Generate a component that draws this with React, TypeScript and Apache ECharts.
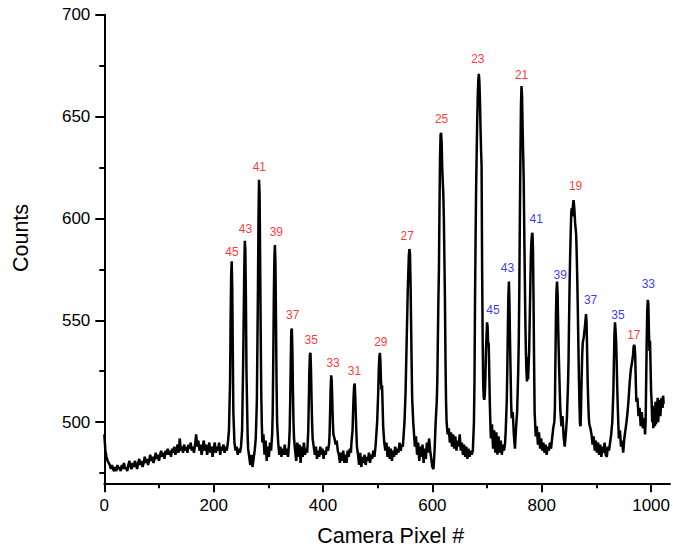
import React, { useEffect, useRef } from "react";
import * as echarts from "echarts";

// Spectrum (camera pixel, counts)
const spectrumBaseline: [number, number][] = [
  [0, 494], [1, 490], [2, 486], [4, 483], [6, 481], [8, 480], [10, 479], [12, 477], [14, 479], [16, 477],
  [18, 476], [20, 478], [22, 476], [24, 479], [26, 477], [28, 478], [30, 476], [32, 479], [34, 477], [36, 480],
  [38, 477], [40, 478], [42, 476], [44, 479], [46, 481], [48, 478], [50, 477], [52, 480], [54, 478], [56, 481],
  [58, 479], [60, 477], [62, 480], [64, 482], [66, 479], [68, 481], [70, 478], [72, 480], [74, 483], [76, 480],
  [78, 482], [80, 479], [82, 481], [84, 484], [86, 481], [88, 483], [90, 480], [92, 482], [94, 485], [96, 482],
  [98, 484], [100, 481], [102, 484], [104, 486], [106, 483], [108, 485], [110, 482], [112, 486], [114, 484], [116, 487],
  [118, 484], [120, 486], [122, 483], [124, 487], [126, 485], [128, 488], [130, 484], [132, 486], [134, 489], [136, 485],
  [138, 492], [140, 486], [142, 488], [144, 485], [146, 489], [148, 486], [150, 488], [152, 485], [154, 489], [156, 487],
  [158, 490], [160, 486], [162, 488], [164, 485], [166, 489], [168, 494], [170, 488], [172, 491], [174, 486], [176, 489],
  [178, 484], [180, 488], [182, 491], [184, 486], [186, 489], [188, 484], [190, 487], [192, 490], [194, 485], [196, 488],
  [198, 483], [200, 487], [202, 490], [204, 485], [206, 488], [208, 486], [210, 490], [212, 484], [214, 488], [216, 486],
  [218, 489], [220, 485], [222, 488], [224, 486],
];

const spectrumPeaks45to39: [number, number][] = [
  [226, 490], [228, 496], [230, 520], [231, 550], [232, 572], [233, 579], [234, 566], [235, 535], [236, 505], [238, 490],
  [240, 486], [242, 488], [244, 484], [246, 487], [248, 485], [250, 488], [252, 496], [254, 530], [256, 575], [257, 589],
  [258, 584], [259, 560], [260, 525], [262, 495], [263, 487], [265, 483], [267, 479], [269, 484], [271, 478], [273, 482],
  [275, 486], [277, 492], [279, 510], [281, 565], [282, 600], [283, 619], [284, 612], [285, 580], [286, 545], [287, 515],
  [288, 500], [289, 490], [291, 494], [293, 484], [295, 491], [297, 481], [299, 488], [301, 483], [303, 490], [305, 486],
  [307, 494], [308, 505], [309, 530], [310, 560], [311, 580], [312, 587], [313, 578], [314, 550], [315, 520], [316, 500],
  [318, 490], [320, 484], [322, 488], [324, 483], [326, 487], [328, 484], [330, 489], [332, 484], [334, 487], [336, 483],
  [338, 490],
];

const spectrumPeaks37to33: [number, number][] = [
  [339, 496], [340, 510], [341, 530], [342, 545], [343, 546], [344, 535], [345, 515], [346, 500], [347, 492], [349, 486],
  [351, 481], [353, 490], [355, 483], [357, 489], [359, 480], [361, 488], [363, 483], [365, 490], [367, 484], [369, 487],
  [371, 485], [372, 490], [373, 496], [374, 510], [375, 525], [376, 533], [377, 534], [378, 526], [379, 512], [380, 500],
  [381, 492], [383, 488], [385, 484], [387, 488], [389, 482], [391, 486], [393, 483], [395, 488], [397, 484], [399, 487],
  [401, 482], [403, 486], [405, 484], [407, 488], [409, 486], [411, 489], [412, 494], [413, 505], [414, 517], [415, 523],
  [416, 520], [417, 510], [418, 500], [419, 494], [421, 492], [423, 489], [425, 491], [427, 486], [429, 484], [431, 480],
  [433, 485], [435, 481], [437, 486], [439, 480], [441, 484], [443, 480], [445, 486], [447, 483], [449, 487], [451, 485],
];

const spectrumPeaks31to29: [number, number][] = [
  [452, 490], [454, 496], [455, 505], [456, 513], [457, 518], [458, 519], [459, 512], [460, 503], [461, 495], [462, 488],
  [464, 484], [466, 479], [468, 485], [470, 478], [472, 483], [474, 480], [476, 484], [478, 479], [480, 483], [482, 481],
  [484, 485], [486, 480], [488, 484], [490, 482], [492, 486], [494, 483], [496, 488], [497, 492], [499, 500], [501, 515],
  [502, 526], [503, 532], [504, 534], [505, 530], [506, 520], [507, 516], [508, 518], [509, 508], [510, 498], [512, 490],
  [514, 486], [516, 490], [518, 483], [520, 488], [522, 482], [524, 487], [526, 481], [528, 486], [530, 483], [532, 488],
  [534, 484], [536, 487], [538, 485], [540, 490], [542, 486], [544, 489], [546, 488],
];

const spectrumPeaks27to25: [number, number][] = [
  [547, 492], [549, 500], [551, 515], [553, 540], [555, 565], [557, 582], [558, 585], [559, 583], [560, 570], [561, 550],
  [562, 530], [563, 512], [565, 500], [566, 496], [568, 488], [570, 493], [572, 484], [574, 490], [576, 481], [578, 488],
  [580, 483], [582, 489], [584, 480], [586, 487], [588, 482], [590, 490], [592, 485], [594, 492], [596, 486], [598, 482],
  [600, 478], [602, 477], [604, 486], [606, 500], [608, 510], [609, 520], [610, 540], [611, 560], [612, 575], [613, 605],
  [614, 630], [615, 641], [616, 642], [617, 637], [618, 625], [619, 618], [620, 612], [621, 600], [622, 580], [623, 560],
  [624, 530], [625, 510], [626, 500], [628, 494], [630, 497], [632, 490], [634, 495], [636, 488], [638, 494], [640, 487],
  [642, 493], [644, 486], [646, 491], [648, 488], [650, 494], [652, 486], [654, 490], [656, 484], [658, 489], [660, 483],
  [662, 488], [664, 482], [666, 487], [668, 483], [670, 486], [672, 484],
];

const spectrumPeaks23to41: [number, number][] = [
  [674, 486], [676, 500], [677, 520], [678, 560], [679, 590], [680, 615], [681, 632], [682, 648], [683, 660], [684, 668],
  [685, 671], [686, 667], [687, 658], [688, 645], [689, 634], [690, 626], [691, 575], [692, 540], [693, 518], [694, 512],
  [695, 511], [696, 514], [697, 522], [698, 535], [699, 542], [700, 549], [701, 547], [702, 538], [703, 539], [704, 525],
  [705, 510], [706, 500], [707, 492], [709, 499], [711, 487], [713, 496], [715, 485], [717, 495], [719, 484], [721, 493],
  [723, 485], [725, 491], [727, 484], [729, 489], [731, 486], [733, 490], [734, 495], [736, 510], [737, 525], [738, 545],
  [739, 562], [740, 569], [741, 558], [742, 540], [743, 525], [744, 510], [745, 502], [747, 505], [749, 494], [751, 487],
  [753, 497], [755, 505], [757, 525], [758, 540], [759, 565], [760, 600], [761, 630], [762, 655], [763, 665], [764, 660],
  [765, 645], [766, 632], [767, 620], [768, 595], [769, 572], [770, 550], [771, 535], [772, 525], [773, 520], [774, 532],
  [775, 521], [776, 528], [777, 535], [778, 550], [779, 565], [780, 580], [781, 588], [782, 592], [783, 593], [784, 585],
  [785, 560], [786, 530], [787, 505], [789, 493], [791, 498], [793, 489], [795, 495], [797, 487], [799, 492], [801, 486],
  [803, 490], [805, 485], [807, 489], [809, 484], [811, 488], [813, 486], [815, 490], [817, 487], [819, 492], [821, 497],
];

const spectrumPeaks39to33: [number, number][] = [
  [823, 500], [824, 506], [825, 530], [826, 552], [827, 565], [828, 569], [829, 563], [830, 548], [831, 535], [832, 525],
  [833, 515], [834, 506], [836, 498], [838, 503], [840, 493], [842, 488], [844, 494], [846, 502], [847, 510], [848, 518],
  [849, 530], [850, 550], [851, 568], [852, 582], [853, 593], [854, 603], [855, 605], [856, 601], [857, 606], [858, 609],
  [859, 607], [860, 603], [861, 598], [862, 595], [863, 592], [864, 582], [865, 570], [866, 555], [867, 538], [868, 522],
  [869, 508], [870, 499], [871, 498], [872, 508], [873, 522], [874, 533], [875, 539], [877, 542], [879, 547], [880, 550],
  [881, 553], [882, 549], [883, 535], [884, 520], [885, 510], [886, 503], [887, 499], [889, 497], [891, 494], [893, 489],
  [895, 493], [897, 486], [899, 491], [901, 485], [903, 490], [905, 484], [907, 489], [909, 483], [911, 488], [913, 485],
  [915, 490], [917, 484], [919, 483], [921, 488], [923, 486], [925, 490], [927, 494], [929, 500], [931, 515], [932, 530],
  [933, 543], [934, 549], [935, 545], [936, 540], [937, 530], [938, 518], [939, 508], [940, 500], [941, 492], [943, 496],
  [945, 488], [947, 491], [949, 485], [951, 492], [953, 496], [955, 500], [957, 505], [959, 512], [961, 520], [963, 526],
  [965, 529], [967, 533], [968, 537], [969, 538], [970, 537], [971, 532], [972, 520], [973, 510], [975, 512], [977, 503],
  [979, 507], [981, 498], [983, 505], [985, 497], [987, 502], [989, 494], [990, 500], [991, 520], [992, 540], [993, 555],
  [994, 560], [995, 558], [996, 545], [997, 535], [998, 540], [999, 528], [1000, 515], [1001, 510], [1002, 500], [1003, 508],
  [1004, 497], [1006, 505], [1007, 498], [1008, 510], [1009, 499], [1011, 506], [1012, 512], [1013, 500], [1015, 511], [1017, 503],
  [1019, 512], [1021, 507], [1022, 513], [1023, 509],
];

// Peak annotations: [x, y, label]
const redLabels: [number, number, string][] = [
  [233.5, 583.7, "45"], [258.1, 594.7, "43"], [283.6, 625.2, "41"], [314.6, 593.3, "39"],
  [344.6, 552.8, "37"], [378.3, 540.2, "35"], [418.4, 528.9, "33"], [457.6, 525.2, "31"],
  [505.8, 539.2, "29"], [554.1, 591.6, "27"], [616.9, 649.0, "25"], [683.1, 678.2, "23"],
  [763.2, 670.4, "21"], [861.9, 616.1, "19"], [968.5, 542.7, "17"],
];
const blueLabels: [number, number, string][] = [
  [710.7, 555.0, "45"], [737.2, 575.7, "43"], [790.0, 599.9, "41"], [833.7, 572.4, "39"],
  [889.3, 559.9, "37"], [939.3, 552.5, "35"], [994.9, 567.7, "33"],
];

const xRange = [0, 1034.5];
const yRange = [470, 700];
const xMajorTicks = [0, 200, 400, 600, 800, 1000];
const xMinorTicks = [100, 300, 500, 700, 900];
const yMajorTicks = [500, 550, 600, 650, 700];
const yMinorTicks = [475, 525, 575, 625, 675];

const xTitle = "Camera Pixel #";
const yTitle = "Counts";

export default function App() {
  const ref = useRef<HTMLDivElement>(null);

  useEffect(() => {
    if (!ref.current) return;
    const chart = echarts.init(ref.current, undefined, { renderer: "svg" });
    const font = '"Liberation Sans", Arial, sans-serif';
    const black = "#000000";
    const lineStyle = { color: black, width: 2 };
    const plain = (v: number) => String(v);

    const spectrum = [
      ...spectrumBaseline,
      ...spectrumPeaks45to39,
      ...spectrumPeaks37to33,
      ...spectrumPeaks31to29,
      ...spectrumPeaks27to25,
      ...spectrumPeaks23to41,
      ...spectrumPeaks39to33,
    ];

    const labelSeries = (data: [number, number, string][], color: string) => ({
      type: "scatter",
      data,
      symbolSize: 1,
      itemStyle: { color: "rgba(0,0,0,0)" },
      silent: true,
      xAxisIndex: 0,
      yAxisIndex: 0,
      label: {
        show: true,
        position: "inside",
        formatter: (p: any) => String(p.value[2]),
        color,
        fontSize: 12,
        fontFamily: font,
      },
    });

    chart.setOption({
      animation: false,
      backgroundColor: "#ffffff",
      grid: { left: 104.3, top: 14.7, right: 0, bottom: 70.7, containLabel: false },
      xAxis: [
        {
          type: "value",
          position: "bottom",
          min: xRange[0],
          max: xRange[1],
          axisLine: { show: true, onZero: false, lineStyle },
          axisTick: { show: true, length: 9, lineStyle, customValues: xMajorTicks },
          axisLabel: {
            customValues: xMajorTicks,
            formatter: plain,
            fontSize: 17,
            color: black,
            fontFamily: font,
            margin: 14,
          },
          splitLine: { show: false },
          name: xTitle,
          nameLocation: "middle",
          nameGap: 42,
          nameTextStyle: { fontSize: 21.5, color: black, fontFamily: font, padding: [0, 0, 0, 7] },
        },
        {
          type: "value",
          position: "bottom",
          min: xRange[0],
          max: xRange[1],
          axisLine: { show: false, onZero: false },
          axisTick: { show: true, length: 5, lineStyle, customValues: xMinorTicks },
          axisLabel: { show: false },
          splitLine: { show: false },
        },
      ],
      yAxis: [
        {
          type: "value",
          position: "left",
          min: yRange[0],
          max: yRange[1],
          axisLine: { show: true, onZero: false, lineStyle },
          axisTick: { show: true, length: 9, lineStyle, customValues: yMajorTicks },
          axisLabel: {
            customValues: yMajorTicks,
            formatter: plain,
            fontSize: 17,
            color: black,
            fontFamily: font,
            margin: 14,
          },
          splitLine: { show: false },
          name: yTitle,
          nameLocation: "middle",
          nameGap: 72,
          nameTextStyle: { fontSize: 21.5, color: black, fontFamily: font, padding: [0, 0, 0, 22] },
        },
        {
          type: "value",
          position: "left",
          min: yRange[0],
          max: yRange[1],
          axisLine: { show: false, onZero: false },
          axisTick: { show: true, length: 5, lineStyle, customValues: yMinorTicks },
          axisLabel: { show: false },
          splitLine: { show: false },
        },
      ],
      series: [
        {
          type: "line",
          data: spectrum,
          xAxisIndex: 0,
          yAxisIndex: 0,
          symbol: "none",
          showSymbol: false,
          silent: true,
          lineStyle: { color: black, width: 2.5 },
        },
        labelSeries(redLabels, "#ff0000"),
        labelSeries(blueLabels, "#0000ff"),
      ],
    });

    return () => chart.dispose();
  }, []);

  return (
    <div
      ref={ref}
      style={{ position: "fixed", left: 0, top: 0, width: 673, height: 554, background: "#fff" }}
    />
  );
}
